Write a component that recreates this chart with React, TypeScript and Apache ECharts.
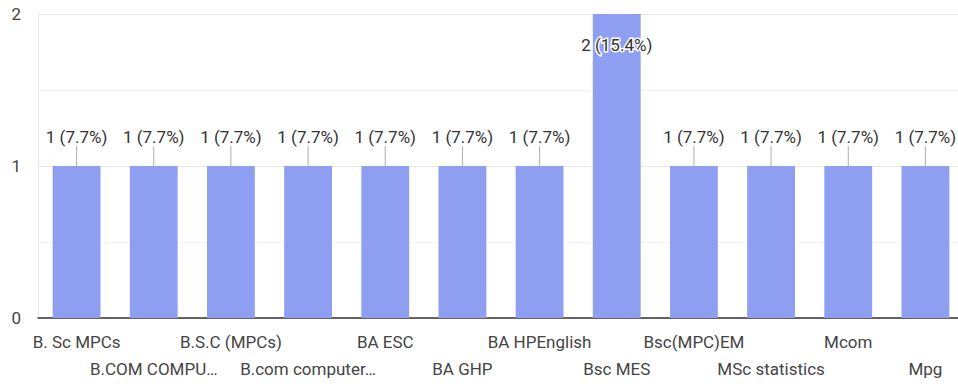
import React, { useEffect, useRef } from "react";
import * as echarts from "echarts";

const categories = [
  "B. Sc MPCs",
  "B.COM COMPU…",
  "B.S.C (MPCs)",
  "B.com computer…",
  "BA ESC",
  "BA GHP",
  "BA HPEnglish",
  "Bsc MES",
  "Bsc(MPC)EM",
  "MSc statistics",
  "Mcom",
  "Mpg",
];
const counts = [1, 1, 1, 1, 1, 1, 1, 2, 1, 1, 1, 1];
const yTicks = [0, 1, 2];

const total = counts.reduce((a, b) => a + b, 0);
const yMax = yTicks[yTicks.length - 1];
const FONT = "Roboto, Arial, sans-serif";

export default function App() {
  const ref = useRef<HTMLDivElement>(null);
  useEffect(() => {
    document.body.style.margin = "0";
    document.body.style.overflow = "hidden";
    if (!ref.current) return;
    const chart = echarts.init(ref.current, undefined, { renderer: "svg" });
    const barData = counts.map((v) => {
      const atTop = v >= yMax;
      return {
        value: v,
        label: {
          show: true,
          position: atTop ? "insideTop" : "top",
          distance: atTop ? 22 : 21,
          formatter: () => `${v} (${((v / total) * 100).toFixed(1)}%)`,
          color: "#333",
          fontSize: 17,
          fontFamily: FONT,
          textBorderColor: "#fff",
          textBorderWidth: 3,
        },
      };
    });
    const tickData = counts.map((v, i) => ({
      value: [i, v],
      symbolOffset: [0, v >= yMax ? 10 : -10],
    }));
    chart.setOption({
      animation: false,
      grid: { left: 38, top: 14, right: 6, bottom: 68, containLabel: false },
      xAxis: {
        type: "category",
        data: categories,
        axisTick: { show: false },
        axisLine: { show: true, lineStyle: { color: "#333", width: 1.5 } },
        axisLabel: {
          interval: 0,
          margin: 10,
          color: "#444",
          fontSize: 17,
          fontFamily: FONT,
          lineHeight: 27,
          verticalAlign: "top",
          formatter: (name: string, idx: number) => (idx % 2 === 1 ? "\n" + name : name),
        },
      },
      yAxis: {
        type: "value",
        min: 0,
        max: yMax,
        interval: 1,
        axisLine: { show: true, lineStyle: { color: "#ececec" } },
        axisTick: { show: false },
        axisLabel: { color: "#444", fontSize: 17, fontFamily: FONT, margin: 17 },
        splitLine: { show: true, lineStyle: { color: "#e8e8e8" } },
        minorTick: { show: false, splitNumber: 2 },
        minorSplitLine: { show: true, lineStyle: { color: "#f3f3f3" } },
      },
      series: [
        {
          type: "bar",
          data: barData,
          barWidth: "62%",
          itemStyle: { color: "#8e9ff2" },
        },
        {
          type: "scatter",
          data: tickData,
          symbol: "rect",
          symbolSize: [1, 20],
          itemStyle: { color: "#9a9a9a" },
          z: 1,
          silent: true,
        },
      ],
    });
    return () => chart.dispose();
  }, []);
  return (
    <div style={{ width: 958, height: 386, position: "absolute", left: 0, top: 0, overflow: "hidden" }}>
      <div ref={ref} style={{ width: 970, height: 386 }} />
    </div>
  );
}
